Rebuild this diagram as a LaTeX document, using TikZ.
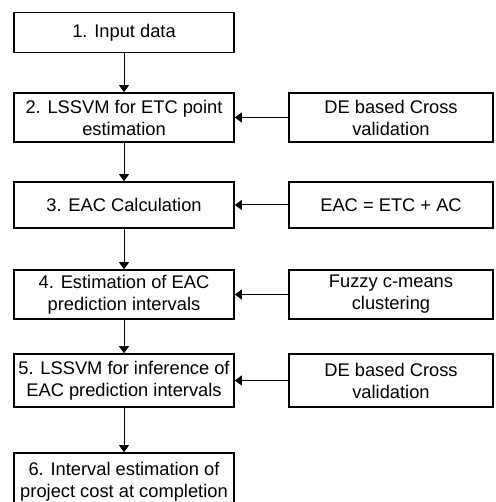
\documentclass[tikz,border=0pt]{standalone}
\usepackage{fontspec}
\setmainfont{Liberation Sans}
\usetikzlibrary{arrows.meta, positioning}

\begin{document}
\begin{tikzpicture}[
  x=1pt, y=-1pt,
  stepbox/.style={rectangle, draw, line width=1.6pt, minimum width=220pt,
                  inner sep=0pt, align=center,
                  font=\fontsize{18.3}{22}\selectfont},
  aidbox/.style={stepbox, minimum width=204pt},
  arrow/.style={-{Triangle[width=10pt,length=7pt]}, line width=1pt},
]
\useasboundingbox (0,0) rectangle (495,502);

% ---- main steps ----
\node[stepbox, minimum height=40pt] (s1) at (124, 32.7)  {1. Input data};
\node[stepbox, minimum height=49pt] (s2) at (124, 117.5) {2. LSSVM for ETC point\\estimation};
\node[stepbox, minimum height=46pt] (s3) at (124, 205)   {3. EAC Calculation};
\node[stepbox, minimum height=49pt] (s4) at (124, 294.5) {4. Estimation of EAC\\prediction intervals};
\node[stepbox, minimum height=53pt] (s5) at (124, 380.5) {5. LSSVM for inference of\\EAC prediction intervals};
\node[stepbox, minimum height=58pt] (s6) at (124, 482)   {6. Interval estimation of\\project cost at completion};

% ---- supporting methods ----
\node[aidbox, minimum height=49pt] (cv1)  at (391, 117.5) {DE based Cross\\validation};
\node[aidbox, minimum height=46pt] (calc) at (391, 205)   {EAC = ETC + AC};
\node[aidbox, minimum height=49pt] (fcm)  at (391, 294.5) {Fuzzy c-means\\clustering};
\node[aidbox, minimum height=53pt] (cv2)  at (391, 380.5) {DE based Cross\\validation};

% ---- flow ----
\draw[arrow] (s1) -- (s2);
\draw[arrow] (s2) -- (s3);
\draw[arrow] (s3) -- (s4);
\draw[arrow] (s4) -- (s5);
\draw[arrow] (s5) -- (s6);

% ---- inputs ----
\draw[arrow] (cv1)  -- (s2);
\draw[arrow] (calc) -- (s3);
\draw[arrow] (fcm)  -- (s4);
\draw[arrow] (cv2)  -- (s5);

\end{tikzpicture}
\end{document}
